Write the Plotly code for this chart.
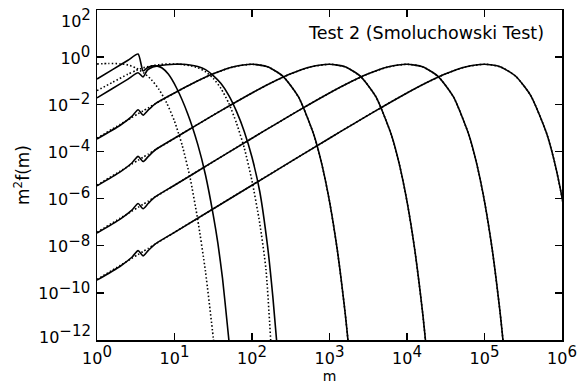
import numpy as np
import plotly.graph_objects as go

# ---- digitised data: exponents (log10 m, log10 m^2 f(m)) ----
# numerical (solid) curves
s1_logm = [0, 0.2, 0.4, 0.53, 0.595, 0.65, 0.72, 0.78, 0.84, 0.92, 1.03, 1.17, 1.3, 1.4, 1.5, 1.56, 1.62, 1.68, 1.72]
s1_logy = [-0.93, -0.53, -0.13, 0.13, -0.59, -0.45, -0.37, -0.38, -0.46, -0.72, -1.33, -2.40, -3.7, -5.0, -6.7, -7.9, -9.4, -11.3, -12.6]

s2_logm = [0, 0.2, 0.4, 0.53, 0.595, 0.65, 0.72, 0.8, 0.9, 1.0, 1.1, 1.2, 1.3, 1.4, 1.5, 1.6, 1.7, 1.8, 1.9, 2.0, 2.1, 2.2, 2.27, 2.33]
s2_logy = [-1.73, -1.33, -0.93, -0.66, -0.84, -0.55, -0.42, -0.36, -0.32, -0.30, -0.30, -0.33, -0.40, -0.53, -0.78, -1.12, -1.62, -2.3, -3.15, -4.25, -5.7, -8.0, -10.2, -12.5]

s3_logm = [0, 0.3, 0.45, 0.53, 0.595, 0.66, 0.75, 1.0, 1.25, 1.5, 1.75, 2.0, 2.2, 2.4, 2.6, 2.8, 2.9, 3.0, 3.1, 3.2, 3.26]
s3_logy = [-3.47, -2.89, -2.51, -2.23, -2.46, -2.25, -1.98, -1.519, -1.087, -0.707, -0.421, -0.301, -0.409, -0.814, -1.690, -3.313, -4.53, -6.118, -8.17, -10.80, -12.72]

s4_logm = [0, 0.3, 0.45, 0.53, 0.595, 0.66, 0.75, 1.0, 1.3, 1.6, 2.0, 2.25, 2.5, 2.75, 3.0, 3.2, 3.4, 3.6, 3.8, 3.9, 4.0, 4.1, 4.2, 4.26]
s4_logy = [-5.46, -4.87, -4.49, -4.21, -4.43, -4.22, -3.94, -3.441, -2.850, -2.267, -1.519, -1.087, -0.707, -0.421, -0.301, -0.409, -0.814, -1.690, -3.313, -4.53, -6.118, -8.17, -10.80, -12.72]

s5_logm = [0, 0.3, 0.45, 0.53, 0.595, 0.66, 0.75, 1.0, 1.5, 2.0, 2.3, 2.6, 3.0, 3.25, 3.5, 3.75, 4.0, 4.2, 4.4, 4.6, 4.8, 4.9, 5.0, 5.1, 5.2, 5.26]
s5_logy = [-7.46, -6.87, -6.49, -6.21, -6.43, -6.21, -5.93, -5.433, -4.435, -3.441, -2.850, -2.267, -1.519, -1.087, -0.707, -0.421, -0.301, -0.409, -0.814, -1.690, -3.313, -4.53, -6.118, -8.17, -10.80, -12.72]

s6_logm = [0, 0.3, 0.45, 0.53, 0.595, 0.66, 0.75, 1.0, 2.0, 2.5, 3.0, 3.3, 3.6, 4.0, 4.25, 4.5, 4.75, 5.0, 5.2, 5.4, 5.6, 5.8, 5.9, 6.0, 6.1]
s6_logy = [-9.46, -8.87, -8.49, -8.21, -8.43, -8.21, -7.93, -7.433, -5.433, -4.435, -3.441, -2.850, -2.267, -1.519, -1.087, -0.707, -0.421, -0.301, -0.405, -0.80, -1.65, -3.22, -4.40, -5.95, -7.95]

# analytic (dotted) curves
d1_logm = [0, 0.15, 0.3, 0.4, 0.5, 0.6, 0.7, 0.8, 0.9, 1.0, 1.1, 1.2, 1.3, 1.4, 1.5, 1.53]
d1_logy = [-0.29, -0.27, -0.28, -0.33, -0.46, -0.66, -0.95, -1.37, -1.95, -2.72, -3.75, -5.1, -6.9, -9.1, -11.9, -12.8]

d2_logm = [0, 0.2, 0.4, 0.5, 0.6, 0.7, 0.8, 0.9, 1.0, 1.1, 1.2, 1.3, 1.4, 1.5, 1.6, 1.7, 1.8, 1.9, 2.0, 2.1, 2.18, 2.25]
d2_logy = [-1.42, -1.07, -0.72, -0.57, -0.45, -0.37, -0.32, -0.29, -0.29, -0.31, -0.36, -0.45, -0.62, -0.90, -1.33, -1.95, -2.8, -3.85, -5.25, -7.05, -9.0, -12.5]

d3_logm = [0, 0.3, 0.45, 0.53, 0.595, 0.66, 0.75, 1.0, 1.25, 1.5, 1.75, 2.0, 2.2, 2.4, 2.6, 2.8, 2.9, 3.0, 3.1, 3.2, 3.26]
d3_logy = [-3.441, -2.850, -2.557, -2.402, -2.277, -2.152, -1.981, -1.519, -1.087, -0.707, -0.421, -0.301, -0.409, -0.814, -1.690, -3.313, -4.53, -6.118, -8.17, -10.80, -12.72]

d4_logm = [0, 0.3, 0.45, 0.53, 0.595, 0.66, 0.75, 1.0, 1.3, 1.6, 2.0, 2.25, 2.5, 2.75, 3.0, 3.2, 3.4, 3.6, 3.8, 3.9, 4.0, 4.1, 4.2, 4.26]
d4_logy = [-5.433, -4.834, -4.535, -4.375, -4.246, -4.116, -3.938, -3.441, -2.850, -2.267, -1.519, -1.087, -0.707, -0.421, -0.301, -0.409, -0.814, -1.690, -3.313, -4.53, -6.118, -8.17, -10.80, -12.72]

d5_logm = [0, 0.3, 0.45, 0.53, 0.595, 0.66, 0.75, 1.0, 1.5, 2.0, 2.3, 2.6, 3.0, 3.25, 3.5, 3.75, 4.0, 4.2, 4.4, 4.6, 4.8, 4.9, 5.0, 5.1, 5.2, 5.26]
d5_logy = [-7.433, -6.833, -6.533, -6.373, -6.243, -6.113, -5.933, -5.433, -4.435, -3.441, -2.850, -2.267, -1.519, -1.087, -0.707, -0.421, -0.301, -0.409, -0.814, -1.690, -3.313, -4.53, -6.118, -8.17, -10.80, -12.72]

d6_logm = [0, 0.3, 0.45, 0.53, 0.595, 0.66, 0.75, 1.0, 2.0, 2.5, 3.0, 3.3, 3.6, 4.0, 4.25, 4.5, 4.75, 5.0, 5.2, 5.4, 5.6, 5.8, 5.9, 6.0, 6.1]
d6_logy = [-9.433, -8.833, -8.533, -8.373, -8.243, -8.113, -7.933, -7.433, -5.433, -4.435, -3.441, -2.850, -2.267, -1.519, -1.087, -0.707, -0.421, -0.301, -0.405, -0.80, -1.65, -3.22, -4.40, -5.95, -7.95]

x_tick_exp = [0, 1, 2, 3, 4, 5, 6]
y_tick_exp = [2, 0, -2, -4, -6, -8, -10, -12]
y_edge_exp = [2, -12]          # end labels drawn nudged inward, as in the original
title_text = "Test 2 (Smoluchowski Test)"

FONT = "DejaVu Sans, Verdana, sans-serif"

solid = [(s1_logm, s1_logy), (s2_logm, s2_logy), (s3_logm, s3_logy),
         (s4_logm, s4_logy), (s5_logm, s5_logy), (s6_logm, s6_logy)]
dotted = [(d1_logm, d1_logy), (d2_logm, d2_logy), (d3_logm, d3_logy),
          (d4_logm, d4_logy), (d5_logm, d5_logy), (d6_logm, d6_logy)]

fig = go.Figure()
for lm, ly in dotted:
    fig.add_trace(go.Scatter(x=np.power(10.0, lm), y=np.power(10.0, ly), mode="lines",
                             line=dict(color="black", width=1.6, dash="1.5px,2.2px", shape="spline", smoothing=0.6),
                             showlegend=False, hoverinfo="skip"))
for lm, ly in solid:
    fig.add_trace(go.Scatter(x=np.power(10.0, lm), y=np.power(10.0, ly), mode="lines",
                             line=dict(color="black", width=1.6, shape="spline", smoothing=0.6),
                             showlegend=False, hoverinfo="skip"))

def sup_label(e):
    s = str(e).replace("-", "\u2212")
    return "10<sup><span style='font-size:15px'>" + s + "</span></sup>"

axis_common = dict(type="log", showgrid=False, zeroline=False, automargin=False,
                   showline=True, linecolor="black", linewidth=1.5, mirror="ticks",
                   ticks="inside", ticklen=7, tickwidth=1.5, tickcolor="black",
                   ticklabeloverflow="allow",
                   tickfont=dict(family=FONT, size=16, color="black"))

annots = [dict(text=title_text, xref="paper", yref="paper", x=0.965, y=0.93,
               xanchor="right", yanchor="middle", showarrow=False,
               font=dict(family=FONT, size=17.5, color="black"))]
for e, dy in zip(y_edge_exp, [-8, 6]):
    annots.append(dict(text=sup_label(e), xref="paper", yref="y", x=0, y=e,
                       xanchor="right", yanchor="middle", xshift=-4, yshift=dy,
                       showarrow=False, font=dict(family=FONT, size=16, color="black")))

fig.update_layout(
    width=578, height=388,
    margin=dict(l=97, r=16, t=10, b=48),
    paper_bgcolor="white", plot_bgcolor="white",
    font=dict(family=FONT, size=16, color="black"),
    xaxis=dict(range=[0, 6],
               tickvals=[10.0 ** e for e in x_tick_exp],
               ticktext=[sup_label(e) for e in x_tick_exp],
               ticklabelstandoff=3,
               title=dict(text="m", font=dict(family=FONT, size=14), standoff=0),
               **axis_common),
    yaxis=dict(range=[-12, 2],
               tickvals=[10.0 ** e for e in y_tick_exp],
               ticktext=["" if e in y_edge_exp else sup_label(e) for e in y_tick_exp],
               ticklabelstandoff=2, ticklabelshift=1,
               title=dict(text="m<sup>2</sup>f(m)", font=dict(family=FONT, size=17), standoff=4),
               **axis_common),
    annotations=annots,
)

fig.write_html("out.html", config={"displayModeBar": False, "staticPlot": True},
               post_script="document.body.style.margin='0';")
